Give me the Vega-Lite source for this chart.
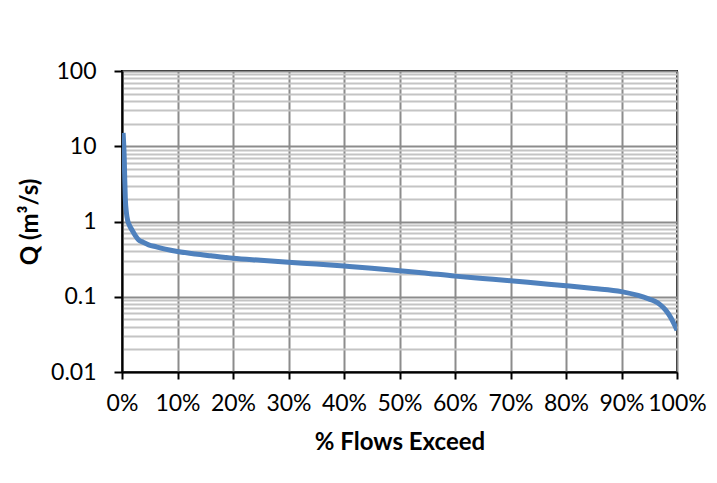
{
  "$schema": "https://vega.github.io/schema/vega-lite/v6.json",
  "autosize": {"type": "none"},
  "padding": {"left": 122, "top": 71, "right": 40, "bottom": 111},
  "width": 555,
  "height": 301,
  "background": "white",
  "config": {
    "view": {"stroke": "black", "strokeWidth": 2},
    "font": "Lato",
    "axis": {"labelFont": "Lato", "titleFont": "Lato", "labelColor": "black", "titleColor": "black", "labelFontSize": 23, "titleFontSize": 24, "titleFontWeight": "bold", "domainColor": "black", "domainWidth": 2, "tickColor": "black", "tickWidth": 2}
  },
  "data": {"values": [
    {"p": 0.002, "q": 15},
    {"p": 0.004, "q": 7},
    {"p": 0.005, "q": 3.5},
    {"p": 0.006, "q": 2},
    {"p": 0.008, "q": 1.3},
    {"p": 0.010, "q": 1.05},
    {"p": 0.013, "q": 0.9},
    {"p": 0.018, "q": 0.77},
    {"p": 0.024, "q": 0.65},
    {"p": 0.030, "q": 0.57},
    {"p": 0.038, "q": 0.53},
    {"p": 0.048, "q": 0.49},
    {"p": 0.062, "q": 0.46},
    {"p": 0.078, "q": 0.43},
    {"p": 0.10, "q": 0.40},
    {"p": 0.132, "q": 0.37},
    {"p": 0.16, "q": 0.35},
    {"p": 0.20, "q": 0.325},
    {"p": 0.25, "q": 0.305},
    {"p": 0.30, "q": 0.287},
    {"p": 0.35, "q": 0.272},
    {"p": 0.40, "q": 0.256},
    {"p": 0.45, "q": 0.24},
    {"p": 0.50, "q": 0.222},
    {"p": 0.54, "q": 0.209},
    {"p": 0.60, "q": 0.188},
    {"p": 0.65, "q": 0.175},
    {"p": 0.70, "q": 0.163},
    {"p": 0.75, "q": 0.151},
    {"p": 0.80, "q": 0.140},
    {"p": 0.85, "q": 0.129},
    {"p": 0.90, "q": 0.117},
    {"p": 0.93, "q": 0.104},
    {"p": 0.95, "q": 0.093},
    {"p": 0.96, "q": 0.087},
    {"p": 0.97, "q": 0.078},
    {"p": 0.98, "q": 0.066},
    {"p": 0.99, "q": 0.051},
    {"p": 1.0, "q": 0.036}
  ]},
  "mark": {"type": "line", "color": "#4f81bd", "strokeWidth": 5, "interpolate": "monotone", "clip": true},
  "encoding": {
    "x": {
      "field": "p", "type": "quantitative",
      "scale": {"domain": [0, 1], "nice": false, "zero": false},
      "axis": {
        "title": "% Flows Exceed",
        "values": [0, 0.1, 0.2, 0.3, 0.4, 0.5, 0.6, 0.7, 0.8, 0.9, 1],
        "format": ".0%",
        "grid": true, "gridColor": "#8c8c8c", "gridWidth": 2,
        "tickSize": 7, "labelPadding": 13, "titlePadding": 15,
        "labelFlush": false, "labelOverlap": false
      }
    },
    "y": {
      "field": "q", "type": "quantitative",
      "scale": {"type": "log", "domain": [0.01, 100], "nice": false},
      "axis": {
        "title": "Q (m³/s)",
        "values": [0.01, 0.02, 0.03, 0.04, 0.05, 0.06, 0.07, 0.08, 0.09, 0.1, 0.2, 0.3, 0.4, 0.5, 0.6, 0.7, 0.8, 0.9, 1, 2, 3, 4, 5, 6, 7, 8, 9, 10, 20, 30, 40, 50, 60, 70, 80, 90, 100],
        "format": "~g",
        "labelExpr": "abs(log(datum.value)/LN10 - round(log(datum.value)/LN10)) < 0.001 ? datum.label : ''",
        "grid": true,
        "gridColor": {"condition": {"test": "abs(log(datum.value)/LN10 - round(log(datum.value)/LN10)) < 0.001", "value": "#8c8c8c"}, "value": "#c4c4c4"},
        "gridWidth": 2,
        "tickOpacity": {"condition": {"test": "abs(log(datum.value)/LN10 - round(log(datum.value)/LN10)) < 0.001", "value": 1}, "value": 0},
        "tickSize": 8, "labelPadding": 18, "titlePadding": 8,
        "labelFlush": false, "labelOverlap": false
      }
    }
  }
}
